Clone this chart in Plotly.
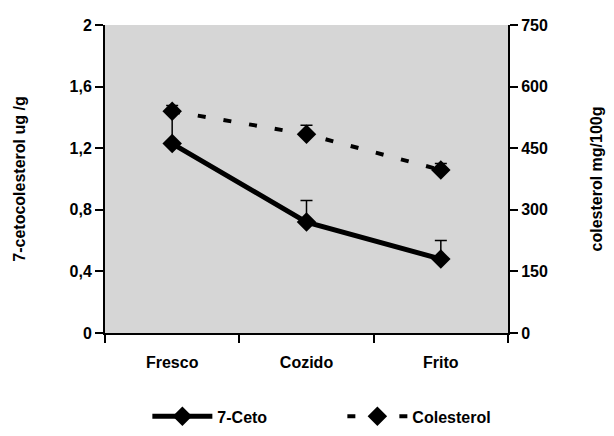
import plotly.graph_objects as go

categories = ["Fresco", "Cozido", "Frito"]
ceto = [1.23, 0.72, 0.48]
ceto_err = [0.19, 0.14, 0.12]
colesterol = [540, 484, 397]
colesterol_err = [14, 22, 16]

FONT = "Liberation Sans Narrow, Arial Narrow, Liberation Sans, Arial"
BOLD16 = dict(family=FONT, size=16, color="black", weight="bold")

fig = go.Figure()
fig.add_trace(go.Scatter(
    x=categories, y=ceto, name="7-Ceto", mode="lines+markers",
    line=dict(color="black", width=5),
    marker=dict(symbol="diamond", size=15, color="black"),
    error_y=dict(type="data", array=ceto_err, arrayminus=[0, 0, 0],
                 color="black", thickness=1.5, width=6),
))
fig.add_trace(go.Scatter(
    x=categories, y=colesterol, name="Colesterol", mode="lines+markers",
    yaxis="y2",
    line=dict(color="black", width=4, dash="8px,18px"),
    marker=dict(symbol="diamond", size=15, color="black"),
    error_y=dict(type="data", array=colesterol_err, arrayminus=[0, 0, 0],
                 color="black", thickness=1.5, width=6),
))

fig.update_layout(
    width=614, height=436,
    margin=dict(l=105, r=106, t=25, b=103, autoexpand=False),
    paper_bgcolor="white", plot_bgcolor="#d6d6d6",
    separators=",.",
    font=dict(family=FONT, size=15, color="black"),
    showlegend=True,
    legend=dict(orientation="h", xref="container", yref="container",
                x=0.24, xanchor="left", y=0.045, yanchor="middle",
                font=BOLD16, itemwidth=60, entrywidthmode="pixels", entrywidth=120,
                bgcolor="rgba(0,0,0,0)"),
    xaxis=dict(
        type="category", range=[-0.5, 2.5], showgrid=False,
        showline=True, linecolor="black", linewidth=2,
        ticks="outside", tickson="boundaries", ticklen=8, tickwidth=2, tickcolor="black",
        tickfont=BOLD16, ticklabelstandoff=14,
        zeroline=False,
    ),
    yaxis=dict(
        range=[0, 2], dtick=0.4, tick0=0, showgrid=False,
        showline=True, linecolor="black", linewidth=2,
        ticks="outside", ticklen=8, tickwidth=2, tickcolor="black",
        tickfont=BOLD16,
        title=dict(text="7-cetocolesterol ug /g", standoff=40, font=BOLD16),
        zeroline=False,
    ),
    yaxis2=dict(
        overlaying="y", side="right", range=[0, 750], dtick=150, tick0=0,
        showgrid=False, showline=True, linecolor="black", linewidth=2,
        ticks="outside", ticklen=8, tickwidth=2, tickcolor="black",
        tickfont=BOLD16,
        title=dict(text="colesterol mg/100g", standoff=44, font=BOLD16),
        zeroline=False,
    ),
)

fig.write_html("out.html")
